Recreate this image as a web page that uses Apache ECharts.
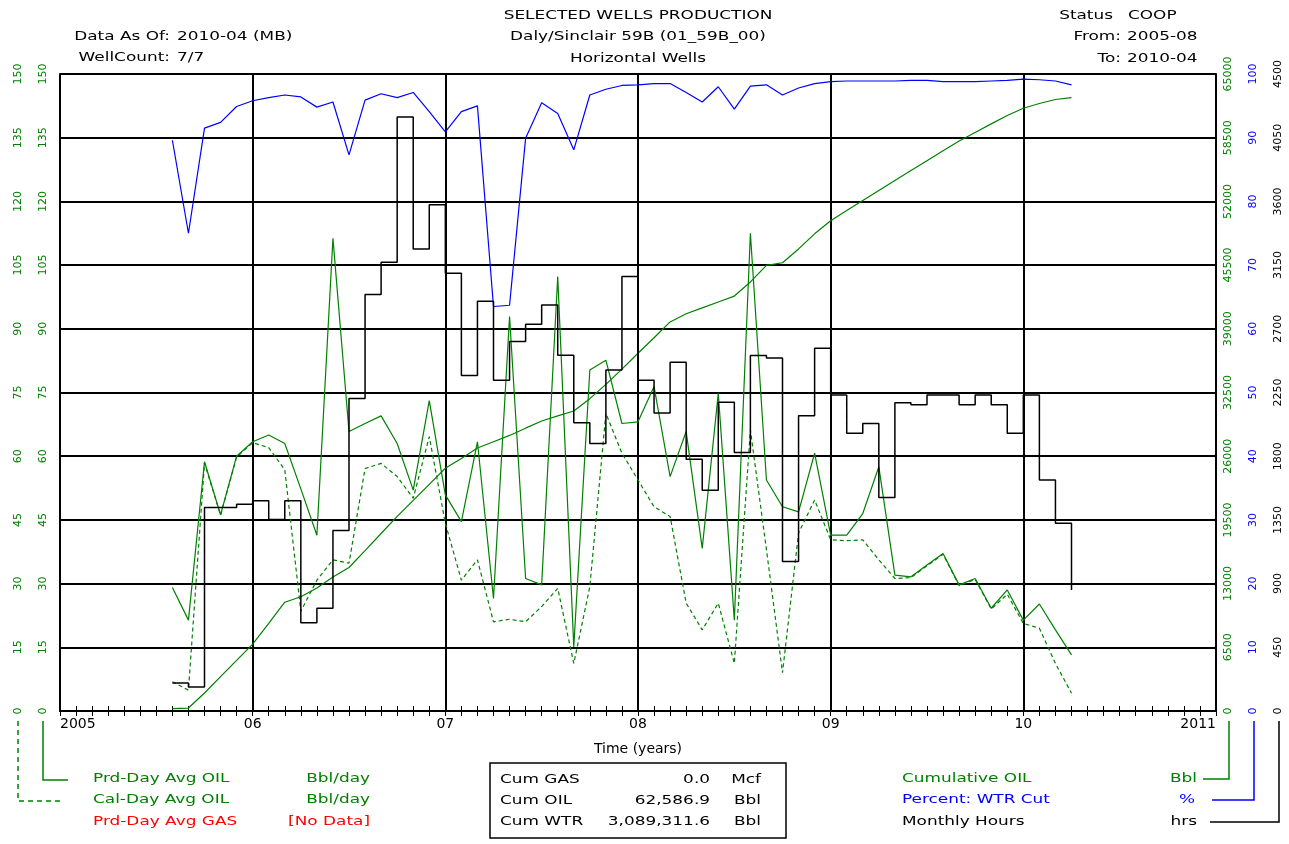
<!DOCTYPE html>
<html>
<head>
<meta charset="utf-8">
<title>Selected Wells Production</title>
<script src="https://cdn.jsdelivr.net/npm/echarts@6.0.0/dist/echarts.min.js"></script>
<style>
html, body { margin: 0; padding: 0; background: #fff; }
#chart { width: 1289px; height: 844px; }
</style>
</head>
<body>
<div id="chart"></div>
<script>
// monthly values, 2005-08 .. 2010-04
var months = [
	'2005-08', '2005-09', '2005-10', '2005-11', '2005-12',
	'2006-01', '2006-02', '2006-03', '2006-04', '2006-05', '2006-06', '2006-07', '2006-08', '2006-09', '2006-10', '2006-11', '2006-12',
	'2007-01', '2007-02', '2007-03', '2007-04', '2007-05', '2007-06', '2007-07', '2007-08', '2007-09', '2007-10', '2007-11', '2007-12',
	'2008-01', '2008-02', '2008-03', '2008-04', '2008-05', '2008-06', '2008-07', '2008-08', '2008-09', '2008-10', '2008-11', '2008-12',
	'2009-01', '2009-02', '2009-03', '2009-04', '2009-05', '2009-06', '2009-07', '2009-08', '2009-09', '2009-10', '2009-11', '2009-12',
	'2010-01', '2010-02', '2010-03', '2010-04'
];
var prdDayOil = [
	29.1, 21.4, 58.7, 46.2, 60.0,
	63.4, 65.0, 63.0, 52.3, 41.4, 111.3, 65.8, 67.7, 69.5, 63.0, 52.0, 73.1,
	50.9, 44.6, 63.4, 26.5, 92.9, 31.2, 29.7, 102.3, 15.1, 80.3, 82.6, 67.7,
	68.1, 76.4, 55.2, 65.8, 38.3, 74.8, 21.4, 112.5, 54.4, 48.1, 46.9, 60.7,
	41.4, 41.4, 46.5, 57.5, 32.0, 31.6, 34.4, 37.1, 29.7, 31.2, 24.2, 28.5,
	21.4, 25.2, 19.1, 13.2
];
var calDayOil = [
	6.9, 4.9, 58.4, 46.1, 59.8,
	63.2, 62.0, 56.8, 23.5, 30.8, 35.6, 34.8, 57.1, 58.3, 55.2, 50.1, 64.6,
	44.2, 30.8, 35.6, 21.0, 21.6, 21.0, 24.6, 28.9, 11.2, 29.3, 70.1, 60.7,
	54.4, 48.1, 45.8, 25.4, 19.1, 25.4, 11.2, 66.2, 38.0, 9.0, 41.9, 49.7,
	40.3, 40.1, 40.3, 35.6, 31.2, 31.4, 34.2, 36.9, 29.5, 31.0, 24.0, 27.5,
	20.6, 19.5, 11.2, 4.2
];
var cumOil = [
	250, 300, 1840, 3500, 5160,
	6830, 8940, 11100, 11660, 12550, 13670, 14640, 16360, 18110, 19860, 21490, 23120,
	24770, 25770, 26840, 27470, 28120, 28860, 29590, 30120, 30610, 31870, 33330, 34890,
	36500, 38090, 39700, 40530, 41130, 41740, 42340, 43780, 45480, 45740, 47150, 48690,
	50030, 51060, 52100, 53120, 54140, 55150, 56150, 57160, 58160, 59040, 59910, 60770,
	61500, 61990, 62400, 62590
];
var wtrCut = [
	89.6, 75.0, 91.5, 92.4, 94.9,
	95.8, 96.3, 96.7, 96.4, 94.8, 95.6, 87.3, 95.9, 96.9, 96.3, 97.1, 94.1,
	90.9, 94.1, 95.0, 63.5, 63.7, 89.9, 95.5, 93.8, 88.1, 96.7, 97.6, 98.2,
	98.3, 98.5, 98.5, 97.1, 95.6, 98.0, 94.5, 98.1, 98.3, 96.7, 97.8, 98.5,
	98.8, 98.9, 98.9, 98.9, 98.9, 99.0, 99.0, 98.8, 98.8, 98.8, 98.9, 99.0,
	99.2, 99.1, 98.9, 98.3
];
var hours = [
	198, 170, 1437, 1437, 1461,
	1485, 1353, 1485, 624, 726, 1275, 2208, 2943, 3171, 4197, 3264, 3576,
	3093, 2370, 2895, 2337, 2610, 2733, 2868, 2514, 2037, 1890, 2409, 3069,
	2337, 2106, 2463, 1779, 1560, 2181, 1827, 2511, 2493, 1056, 2085, 2562,
	2232, 1962, 2031, 1509, 2178, 2163, 2232, 2232, 2163, 2232, 2163, 1962,
	2232, 1632, 1326, 855
];
// axis ranges
var oilMax = 150, oilStep = 15;
var cumMax = 65000, cumStep = 6500;
var pctMax = 100, pctStep = 10;
var hrsMax = 4500, hrsStep = 450;

var GREEN = '#008000', BLUE = '#0000ff', RED = '#ff0000';
var FONT = 'DejaVu Sans';

function toYear(s) {
	var p = s.split('-');
	return +p[0] + (p[1] - 1) / 12;
}
function pairs(vals) {
	return months.map(function(m, i) { return [toYear(m), vals[i]]; });
}

function yAx(pos, offset, max, step, color, margin, showLine, split) {
	return {
		type: 'value', position: pos, offset: offset, min: 0, max: max, interval: step,
		axisLine: { show: showLine, lineStyle: { color: '#000', width: 2 } },
		axisTick: { show: false },
		axisLabel: {
			rotate: 90, color: color, fontFamily: FONT, fontSize: 11, margin: margin,
			formatter: function(v) { return String(v); }
		},
		splitLine: { show: split, lineStyle: { color: '#000', width: 2 } }
	};
}

// header / legend text, stretched a bit to match the wide bitmap font
function txt(s, x, y, align, color) {
	return {
		type: 'text', x: x, y: y, scaleX: 1.3, silent: true,
		style: {
			text: s, x: 0, y: 0, fill: color || '#000', font: '13px "' + FONT + '"',
			textAlign: align || 'left', textVerticalAlign: 'middle',
			align: align || 'left', verticalAlign: 'middle'
		}
	};
}
function pline(pts, color, dash) {
	return {
		type: 'polyline', silent: true, shape: { points: pts },
		style: { stroke: color, lineWidth: 1.5, fill: null, lineDash: dash || null }
	};
}

var chart = echarts.init(document.getElementById('chart'));

var option = {
	animation: false,
	backgroundColor: '#fff',
	grid: { left: 60, right: 73, top: 74, bottom: 133 },
	xAxis: [{
		type: 'value', min: 2005, max: 2011, interval: 1, position: 'bottom',
		axisLine: { lineStyle: { color: '#000', width: 2 } },
		axisTick: { show: true, inside: true, length: 5, lineStyle: { color: '#000' } },
		minorTick: { show: true, splitNumber: 12, length: 5, lineStyle: { color: '#000' } },
		axisLabel: {
			color: '#000', fontFamily: FONT, fontSize: 14, margin: 6,
			alignMinLabel: 'left', alignMaxLabel: 'right',
			formatter: function(v) {
				return (v == 2005 || v == 2011) ? String(v) : String(v).slice(2);
			}
		},
		splitLine: { show: true, lineStyle: { color: '#000', width: 2 } },
		name: 'Time (years)', nameLocation: 'middle', nameGap: 31,
		nameTextStyle: { color: '#000', fontFamily: FONT, fontSize: 14 }
	}, {
		type: 'value', min: 2005, max: 2011, interval: 1, position: 'top',
		axisLine: { lineStyle: { color: '#000', width: 2 } },
		axisTick: { show: true, inside: true, length: 5, lineStyle: { color: '#000' } },
		minorTick: { show: true, splitNumber: 12, length: 5, lineStyle: { color: '#000' } },
		axisLabel: { show: false },
		splitLine: { show: false }
	}],
	yAxis: [
		yAx('left', 0, oilMax, oilStep, GREEN, 11, true, true),
		yAx('left', 25, oilMax, oilStep, GREEN, 11, false, false),
		yAx('right', 0, cumMax, cumStep, GREEN, 7, true, false),
		yAx('right', 25, pctMax, pctStep, BLUE, 7, false, false),
		yAx('right', 50, hrsMax, hrsStep, '#000', 7, false, false)
	],
	series: [{
		name: 'Prd-Day Avg OIL', type: 'line', yAxisIndex: 0, symbol: 'none',
		lineStyle: { color: GREEN, width: 1.2 }, data: pairs(prdDayOil)
	}, {
		name: 'Cal-Day Avg OIL', type: 'line', yAxisIndex: 1, symbol: 'none',
		lineStyle: { color: GREEN, width: 1.2, type: [4, 3] }, data: pairs(calDayOil)
	}, {
		name: 'Cumulative OIL', type: 'line', yAxisIndex: 2, symbol: 'none',
		lineStyle: { color: GREEN, width: 1.2 }, data: pairs(cumOil)
	}, {
		name: 'Percent: WTR Cut', type: 'line', yAxisIndex: 3, symbol: 'none',
		lineStyle: { color: BLUE, width: 1.2 }, data: pairs(wtrCut)
	}, {
		name: 'Monthly Hours', type: 'line', yAxisIndex: 4, symbol: 'none', step: 'end',
		lineStyle: { color: '#000', width: 1.5 }, data: pairs(hours)
	}],
	graphic: [
		// header
		txt('SELECTED WELLS PRODUCTION', 638, 16, 'center'),
		txt('Daly/Sinclair 59B (01_59B_00)', 638, 37, 'center'),
		txt('Horizontal Wells', 638, 59, 'center'),
		txt('Data As Of:', 170, 37, 'right'), txt('2010-04 (MB)', 177, 37),
		txt('WellCount:', 170, 58, 'right'), txt('7/7', 177, 58),
		txt('Status', 1113, 16, 'right'), txt('COOP', 1128, 16),
		txt('From:', 1121, 37, 'right'), txt('2005-08', 1127, 37),
		txt('To:', 1121, 59, 'right'), txt('2010-04', 1127, 59),
		// left legend
		pline([[43, 721], [43, 780], [68, 780]], GREEN),
		pline([[18, 721], [18, 801], [62, 801]], GREEN, [5, 4]),
		txt('Prd-Day Avg OIL', 93, 779, 'left', GREEN), txt('Bbl/day', 370, 779, 'right', GREEN),
		txt('Cal-Day Avg OIL', 93, 800, 'left', GREEN), txt('Bbl/day', 370, 800, 'right', GREEN),
		txt('Prd-Day Avg GAS', 93, 822, 'left', RED), txt('[No Data]', 370, 822, 'right', RED),
		// cum box
		{ type: 'rect', silent: true, shape: { x: 490, y: 763, width: 296, height: 75 },
			style: { fill: null, stroke: '#000', lineWidth: 1.5 } },
		txt('Cum GAS', 500, 780), txt('0.0', 710, 780, 'right'), txt('Mcf', 761, 780, 'right'),
		txt('Cum OIL', 500, 801), txt('62,586.9', 710, 801, 'right'), txt('Bbl', 761, 801, 'right'),
		txt('Cum WTR', 500, 822), txt('3,089,311.6', 710, 822, 'right'), txt('Bbl', 761, 822, 'right'),
		// right legend
		pline([[1229, 721], [1229, 779], [1203, 779]], GREEN),
		pline([[1254, 721], [1254, 800], [1212, 800]], BLUE),
		pline([[1279, 721], [1279, 822], [1210, 822]], '#000'),
		txt('Cumulative OIL', 902, 779, 'left', GREEN), txt('Bbl', 1197, 779, 'right', GREEN),
		txt('Percent: WTR Cut', 902, 800, 'left', BLUE), txt('%', 1195, 800, 'right', BLUE),
		txt('Monthly Hours', 902, 822, 'left', '#000'), txt('hrs', 1197, 822, 'right', '#000')
	]
};

chart.setOption(option);
</script>
</body>
</html>
